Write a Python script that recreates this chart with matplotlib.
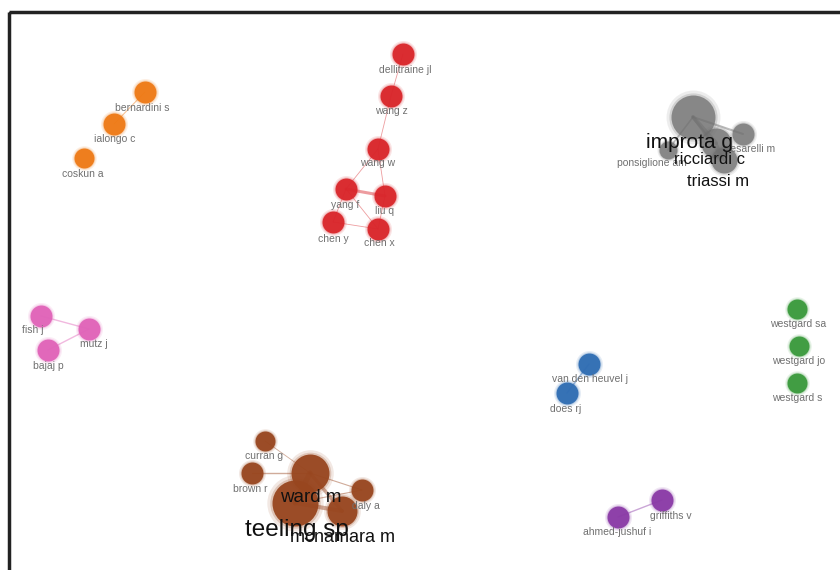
import matplotlib.pyplot as plt
from matplotlib.patches import Rectangle
import numpy as np

# co-authorship map (VOSviewer style), positions in pixels
names = ['bernardini s', 'ialongo c', 'coskun a',
         'dellitraine jl', 'wang z', 'wang w', 'yang f', 'liu q', 'chen y', 'chen x',
         'improta g', 'ricciardi c', 'triassi m', 'cesarelli m', 'ponsiglione am',
         'fish j', 'mutz j', 'bajaj p',
         'van den heuvel j', 'does rj',
         'westgard sa', 'westgard jo', 'westgard s',
         'curran g', 'brown r', 'ward m', 'teeling sp', 'mcnamara m', 'daly a',
         'griffiths v', 'ahmed-jushuf i']
node_x = [145, 114, 84,
          403, 391, 378, 346, 385, 333, 378,
          693, 716, 724, 743, 668,
          41, 89, 48,
          589, 567,
          797, 799, 797,
          265, 252, 310, 295, 342, 362,
          662, 618]
node_y = [92, 124, 158,
          54, 96, 149, 189, 196, 222, 229,
          117, 143, 160, 134, 150,
          316, 329, 350,
          364, 393,
          309, 346, 383,
          441, 473, 473, 503, 511, 490,
          500, 517]
node_r = [11, 11, 10,
          11, 11, 11, 11, 11, 11, 11,
          22, 15, 13, 11, 9,
          11, 11, 11,
          11, 11,
          10, 10, 10,
          10, 11, 19, 23, 15, 11,
          11, 11]
cluster = ['orange'] * 3 + ['red'] * 7 + ['gray'] * 5 + ['pink'] * 3 + \
          ['blue'] * 2 + ['green'] * 3 + ['brown'] * 6 + ['purple'] * 2
label_x = [142, 115, 83,
           405, 391, 378, 345, 385, 333, 379,
           689, 710, 718, 750, 652,
           33, 94, 48,
           590, 566,
           798, 799, 797,
           264, 250, 311, 297, 343, 366,
           671, 617]
label_y = [108, 139, 174,
           70, 111, 163, 205, 211, 239, 243,
           143, 160, 182, 149, 163,
           330, 344, 366,
           379, 409,
           324, 361, 398,
           456, 489, 497, 530, 538, 506,
           516, 532]
label_size = [7.5] * 10 + [15, 12, 12, 7.5, 7.5] + [7.5] * 8 + \
             [7.5, 7.5, 13.5, 17.5, 13, 7.5] + [7.5] * 2
edges = [('bernardini s', 'ialongo c', 0.8),
         ('dellitraine jl', 'wang z', 0.6), ('wang z', 'wang w', 0.6),
         ('wang w', 'yang f', 0.6), ('wang w', 'liu q', 0.6),
         ('yang f', 'liu q', 2.2), ('yang f', 'chen y', 0.6), ('yang f', 'chen x', 0.6),
         ('chen y', 'chen x', 0.6), ('liu q', 'chen x', 0.6),
         ('improta g', 'cesarelli m', 1.5), ('improta g', 'ricciardi c', 3),
         ('improta g', 'triassi m', 2), ('ricciardi c', 'triassi m', 2),
         ('improta g', 'ponsiglione am', 1.2),
         ('fish j', 'mutz j', 1.0), ('bajaj p', 'mutz j', 1.0),
         ('van den heuvel j', 'does rj', 1.2),
         ('brown r', 'ward m', 1.0), ('ward m', 'daly a', 0.8), ('ward m', 'teeling sp', 4),
         ('ward m', 'mcnamara m', 2.5), ('teeling sp', 'mcnamara m', 3),
         ('teeling sp', 'daly a', 0.8), ('curran g', 'ward m', 0.6),
         ('griffiths v', 'ahmed-jushuf i', 1.0)]

palette = {'orange': '#ee7a16', 'red': '#d9252a', 'gray': '#6f6f6f', 'pink': '#e063b8',
           'blue': '#2f6db3', 'green': '#3a9a3c', 'brown': '#98461f', 'purple': '#8a3aa6'}

fig = plt.figure(figsize=(8.4, 5.7), dpi=100)
ax = fig.add_axes([0, 0, 1, 1])
ax.set_xlim(0, 840)
ax.set_ylim(570, 0)
ax.axis('off')

idx = {n: i for i, n in enumerate(names)}

# links
for a, b, w in edges:
    i, j = idx[a], idx[b]
    c = palette[cluster[i]]
    ax.plot([node_x[i], node_x[j]], [node_y[i], node_y[j]], color=c, lw=w, alpha=0.45,
            solid_capstyle='round', zorder=1)

# nodes with a soft halo
for i in range(len(names)):
    c = palette[cluster[i]]
    s = (2 * node_r[i] * 0.72) ** 2
    ax.scatter(node_x[i], node_y[i], s=s * 1.5, color=c, alpha=0.12, lw=0, zorder=2)
    ax.scatter(node_x[i], node_y[i], s=s * 1.2, color=c, alpha=0.22, lw=0, zorder=2)
    a = 0.75 if cluster[i] == 'gray' else 0.95
    ax.scatter(node_x[i], node_y[i], s=s, color=c, alpha=a, lw=0, zorder=3)

# labels
for i in range(len(names)):
    big = label_size[i] > 10
    ax.text(label_x[i], label_y[i], names[i], fontsize=label_size[i],
            family='Liberation Sans', color='#111111' if big else '#707070',
            ha='center', va='center', zorder=5 if big else 4)

# frame
ax.add_patch(Rectangle((9, 12), 900, 700, fill=False, lw=2.5, edgecolor='#222222',
                       clip_on=False, zorder=6))

plt.savefig('out.png', dpi=100)
